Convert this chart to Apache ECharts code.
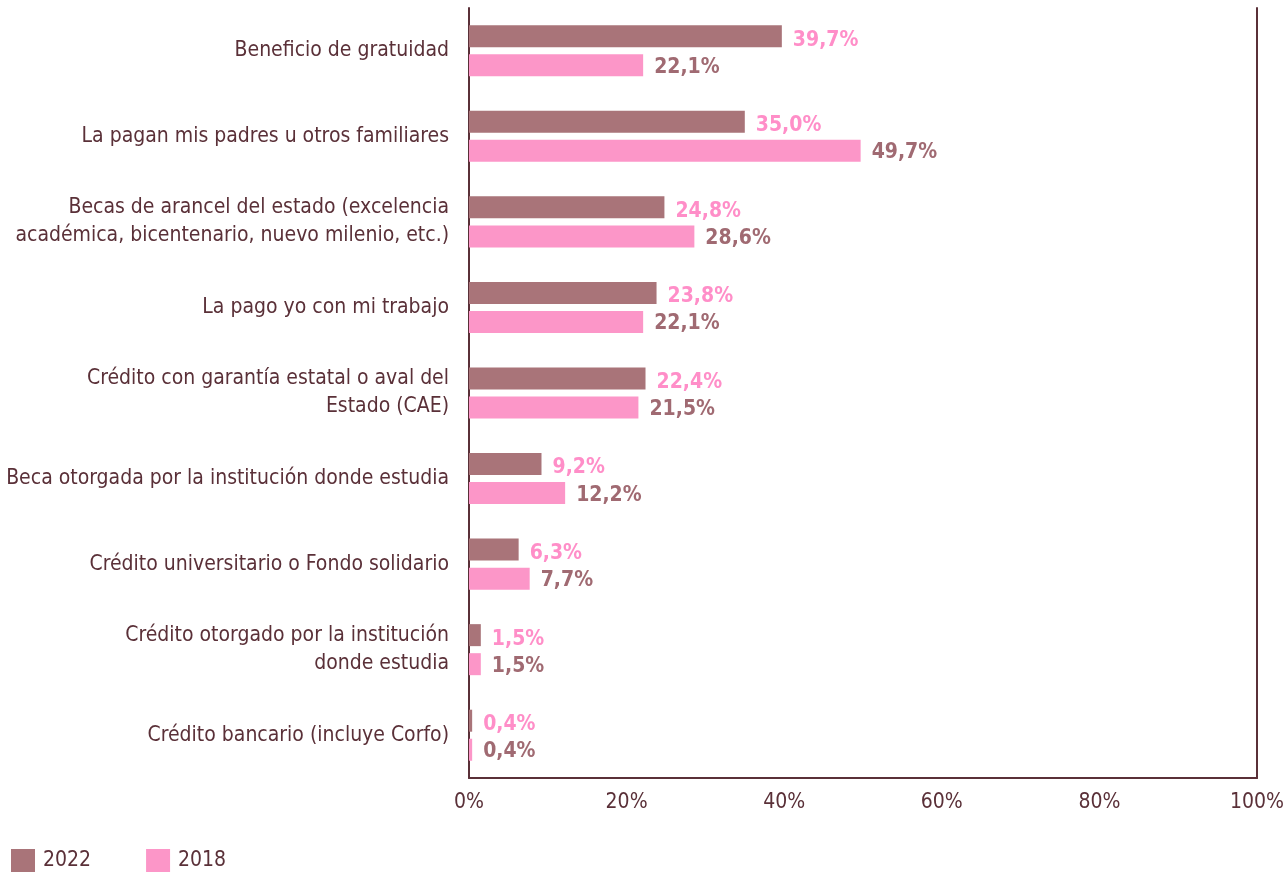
<!DOCTYPE html>
<html>
<head>
<meta charset="utf-8">
<script src="https://cdn.jsdelivr.net/npm/echarts@6/dist/echarts.min.js"></script>
<style>
  html, body { margin: 0; padding: 0; background: #fff; }
  #chart { width: 1288px; height: 872px; }
</style>
</head>
<body>
<div id="chart"></div>
<script>
const categories = [
  "Beneficio de gratuidad",
  "La pagan mis padres u otros familiares",
  "Becas de arancel del estado (excelencia\nacadémica, bicentenario, nuevo milenio, etc.)",
  "La pago yo con mi trabajo",
  "Crédito con garantía estatal o aval del\nEstado (CAE)",
  "Beca otorgada por la institución donde estudia",
  "Crédito universitario o Fondo solidario",
  "Crédito otorgado por la institución\ndonde estudia",
  "Crédito bancario (incluye Corfo)"
];
const values2022 = [39.7, 35.0, 24.8, 23.8, 22.4, 9.2, 6.3, 1.5, 0.4];
const values2018 = [22.1, 49.7, 28.6, 22.1, 21.5, 12.2, 7.7, 1.5, 0.4];

const FONT = "'DejaVu Sans Condensed', 'Liberation Sans Narrow', sans-serif";
const textColor = "#5a3038";
const c2022 = "#a97479";
const c2018 = "#fc96c8";

const fmt = (p) => p.value.toFixed(1).replace(".", ",") + "%";

const chart = echarts.init(document.getElementById("chart"));

const option = {
  backgroundColor: "#fff",
  animation: false,
  textStyle: { fontFamily: FONT },
  grid: {
    left: 469, right: 31, top: 8, bottom: 94,
    containLabel: false,
    outerBoundsMode: "none"
  },
  legend: {
    left: 11,
    top: 849,
    padding: 0,
    itemWidth: 24,
    itemHeight: 23,
    itemGap: 55,
    icon: "rect",
    textStyle: { fontFamily: FONT, fontSize: 21, color: textColor, padding: [0, 0, 0, 3] },
    data: ["2022", "2018"]
  },
  xAxis: {
    type: "value",
    min: 0,
    max: 100,
    interval: 20,
    axisLine: { show: true, lineStyle: { color: textColor, width: 2 } },
    axisTick: { show: false },
    splitLine: { show: false },
    axisLabel: {
      formatter: "{value}%",
      fontFamily: FONT,
      fontSize: 21,
      color: textColor,
      margin: 14
    }
  },
  yAxis: [
    {
      type: "category",
      data: categories,
      inverse: true,
      axisLine: { show: true, lineStyle: { color: textColor, width: 2 } },
      axisTick: { show: false },
      axisLabel: {
        fontFamily: FONT,
        fontSize: 21,
        color: textColor,
        margin: 20,
        lineHeight: 28,
        align: "right"
      }
    },
    {
      type: "category",
      data: categories,
      inverse: true,
      position: "right",
      axisLine: { show: true, lineStyle: { color: textColor, width: 2 } },
      axisTick: { show: false },
      axisLabel: { show: false }
    }
  ],
  series: [
    {
      name: "2022",
      type: "bar",
      data: values2022,
      barWidth: 22,
      barGap: "32%",
      itemStyle: { color: c2022 },
      label: {
        show: true,
        position: "right",
        distance: 11,
        formatter: fmt,
        fontFamily: FONT,
        fontSize: 21,
        fontWeight: "bold",
        color: "#ff8ec8",
        offset: [0, 4]
      }
    },
    {
      name: "2018",
      type: "bar",
      data: values2018,
      barWidth: 22,
      itemStyle: { color: c2018 },
      label: {
        show: true,
        position: "right",
        distance: 11,
        formatter: fmt,
        fontFamily: FONT,
        fontSize: 21,
        fontWeight: "bold",
        color: "#a06a72",
        offset: [0, 2]
      }
    }
  ]
};

chart.setOption(option);
</script>
</body>
</html>
